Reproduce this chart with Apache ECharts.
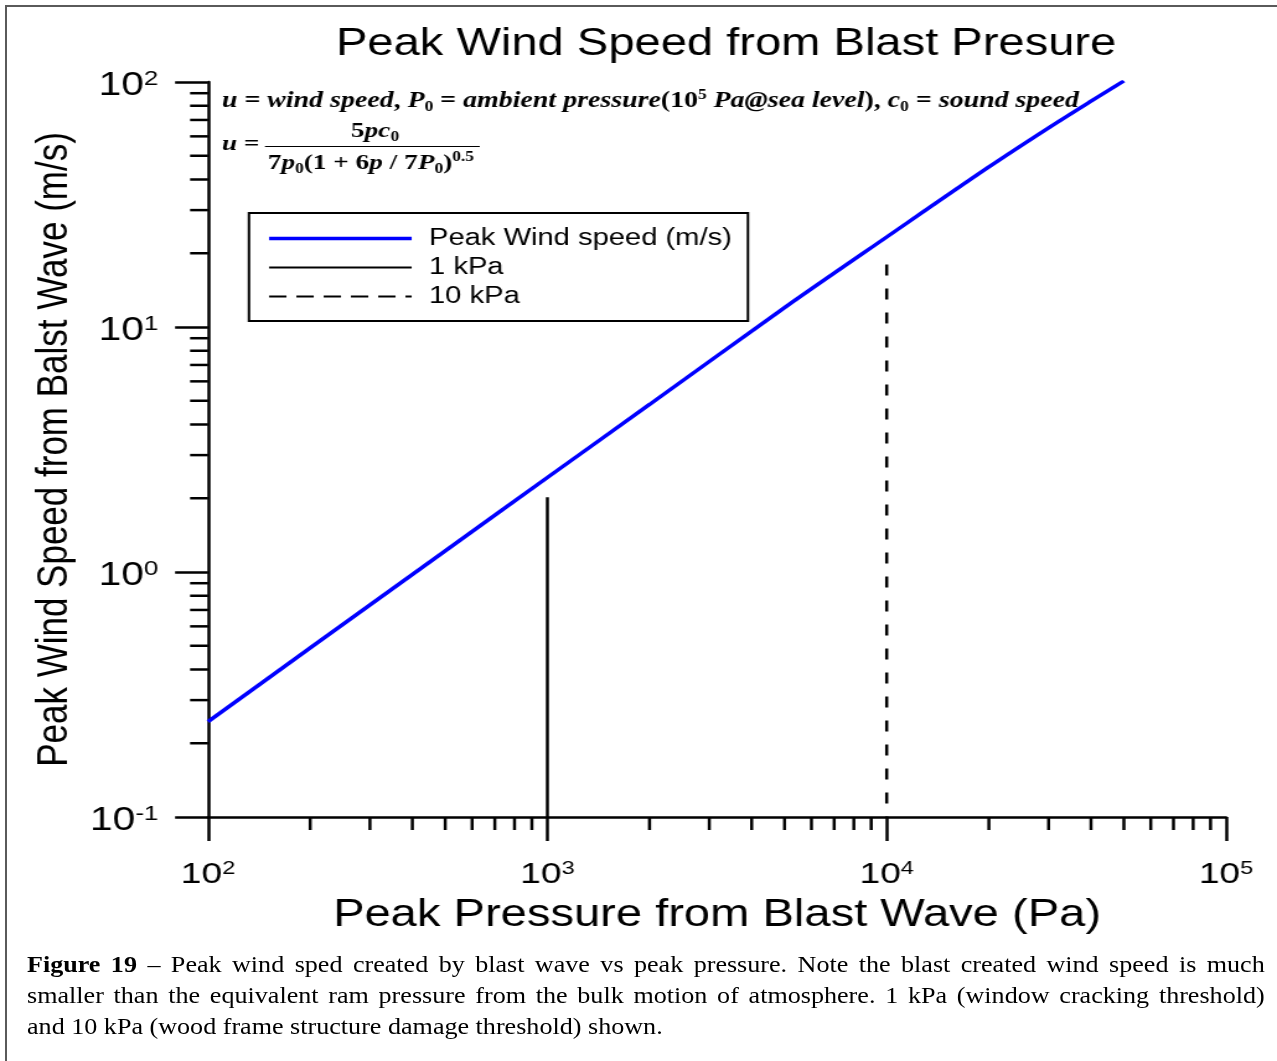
<!DOCTYPE html>
<html>
<head>
<meta charset="utf-8">
<script src="https://cdn.jsdelivr.net/npm/echarts@6/dist/echarts.min.js"></script>
<style>
html,body{margin:0;padding:0;background:#fff;overflow:hidden;}
#frame{position:absolute;left:5px;top:5px;width:1400px;height:1200px;border-top:2px solid #5a5a5a;border-left:2px solid #5a5a5a;}
#wrap{position:absolute;left:0;top:0;width:1030px;height:1061px;transform:scaleX(1.2398);transform-origin:0 0;}
#chart{position:absolute;left:0;top:0;width:1030px;height:1061px;}
#capwrap{position:absolute;left:27px;top:949px;width:1067px;transform:scaleX(1.16);transform-origin:0 0;}
#caption{width:1067px;font-family:"Liberation Serif","Times New Roman",serif;font-size:22.5px;line-height:31px;color:#000;}
#caption div{white-space:nowrap;}
#caption div.j{text-align:justify;text-align-last:justify;}
</style>
</head>
<body>
<div id="frame"></div>
<div id="wrap">
<div id="chart"></div>
</div>
<div id="capwrap">
<div id="caption">
<div class="j"><b>Figure 19</b> – Peak wind sped created by blast wave vs peak pressure. Note the blast created wind speed is much</div>
<div class="j">smaller than the equivalent ram pressure from the bulk motion of atmosphere. 1 kPa (window cracking threshold)</div>
<div>and 10 kPa (wood frame structure damage threshold) shown.</div>
</div>
</div>
<script>
// ---- data ----
const pressurePa = [100, 200, 500, 1000, 2000, 5000, 10000, 20000, 30000, 40000, 50000];
const windSpeed = [0.245, 0.49, 1.22, 2.43, 4.83, 12.0, 23.3, 45, 65, 83.5, 101];
const kPa1Line = [[1000, 2.02], [1000, 0.1]];
const kPa10Line = [[10000, 18], [10000, 0.1]];
const seriesNames = ['Peak Wind speed (m/s)', '1 kPa', '10 kPa'];
const xTickValues = [100, 1000, 10000, 100000];
const xTickExponents = ['2', '3', '4', '5'];
const yTickValues = [0.1, 1, 10, 100];
const yTickExponents = ['-1', '0', '1', '2'];
const xMinorTicks = [200,300,400,500,600,700,800,900,2000,3000,4000,5000,6000,7000,8000,9000,20000,30000,40000,50000,60000,70000,80000,90000];
const yMinorTicks = [0.2,0.3,0.4,0.5,0.6,0.7,0.8,0.9,2,3,4,5,6,7,8,9,20,30,40,50,60,70,80,90];
const titleText = 'Peak Wind Speed from Blast Presure';
const xName = 'Peak Pressure from Blast Wave (Pa)';
const yName = 'Peak Wind Speed from Balst Wave (m/s)';

const SANS = 'Liberation Sans';
const SERIF = 'Liberation Serif';

function tickLabel(values, exps) {
  return function (v) {
    let idx = -1, best = Infinity;
    values.forEach((t, i) => { const d = Math.abs(Math.log10(t) - Math.log10(v)); if (d < best) { best = d; idx = i; } });
    return '{b|10}{s|' + exps[idx] + '}';
  };
}
const xLabelRich = {
  b: {fontFamily: SANS, fontSize: 30, color: '#000', lineHeight: 32},
  s: {fontFamily: SANS, fontSize: 19, color: '#000', verticalAlign: 'top'}
};
const yLabelRich = {
  b: {fontFamily: SANS, fontSize: 33, color: '#000', lineHeight: 34},
  s: {fontFamily: SANS, fontSize: 21, color: '#000', verticalAlign: 'top'}
};
const mathRich = {
  r: {fontFamily: SERIF, fontSize: 22.5, fontWeight: 'bold', color: '#000', lineHeight: 26},
  i: {fontFamily: SERIF, fontSize: 22.5, fontWeight: 'bold', fontStyle: 'italic', color: '#000', lineHeight: 26},
  sub: {fontFamily: SERIF, fontSize: 14, fontWeight: 'bold', color: '#000', verticalAlign: 'bottom'},
  sup: {fontFamily: SERIF, fontSize: 14, fontWeight: 'bold', color: '#000', verticalAlign: 'top'}
};
const fracRich = {
  r: {fontFamily: SERIF, fontSize: 22, fontWeight: 'bold', color: '#000', lineHeight: 26},
  i: {fontFamily: SERIF, fontSize: 22, fontWeight: 'bold', fontStyle: 'italic', color: '#000', lineHeight: 26},
  sub: {fontFamily: SERIF, fontSize: 14, fontWeight: 'bold', color: '#000', verticalAlign: 'bottom'},
  sup: {fontFamily: SERIF, fontSize: 14, fontWeight: 'bold', color: '#000', verticalAlign: 'top'}
};

const chart = echarts.init(document.getElementById('chart'), null, {renderer: 'canvas'});
const option = {
  animation: false,
  backgroundColor: 'transparent',
  title: {
    text: titleText, left: 271, top: 23, padding: 0,
    textStyle: {fontFamily: SANS, fontSize: 38, fontWeight: 'normal', color: '#000', lineHeight: 44}
  },
  grid: {left: 167.8, right: 41.1, top: 82, bottom: 244, containLabel: false, outerBoundsMode: 'none'},
  legend: {
    orient: 'vertical', left: 200.8, top: 213,
    padding: [13.5, 13, 12.5, 14.5], itemGap: 5, itemWidth: 115, itemHeight: 14,
    borderColor: '#000', borderWidth: 2, backgroundColor: '#fff',
    selectedMode: false,
    itemStyle: {opacity: 0},
    textStyle: {fontFamily: SANS, fontSize: 23.5, color: '#000', lineHeight: 23, padding: [0, 0, 0, 9]},
    data: [
      {name: seriesNames[0], itemStyle: {opacity: 0}, lineStyle: {width: 3.5, color: '#0000ff'}},
      {name: seriesNames[1], itemStyle: {opacity: 0}, lineStyle: {width: 2.2, color: '#000'}},
      {name: seriesNames[2], itemStyle: {opacity: 0}, lineStyle: {width: 2.2, color: '#000', type: [14, 8]}}
    ]
  },
  xAxis: {
    type: 'log', logBase: 10, min: 100, max: 100000,
    name: xName, nameLocation: 'middle', nameGap: 77,
    nameTextStyle: {fontFamily: SANS, fontSize: 38, color: '#000', lineHeight: 42},
    axisLine: {show: true, onZero: false, lineStyle: {color: '#000', width: 2.5}},
    axisTick: {show: true, length: 24, lineStyle: {color: '#000', width: 2.5}},
    minorTick: {show: false},
    splitLine: {show: false},
    axisLabel: {margin: 42, formatter: tickLabel(xTickValues, xTickExponents), rich: xLabelRich}
  },
  yAxis: {
    type: 'log', logBase: 10, min: 0.1, max: 100,
    name: yName, nameLocation: 'middle', nameGap: 104.6, nameRotate: 90,
    nameTextStyle: {fontFamily: SANS, fontSize: 35, color: '#000', lineHeight: 35},
    axisLine: {show: true, onZero: false, lineStyle: {color: '#000', width: 2.5}},
    axisTick: {show: true, length: 26.6, lineStyle: {color: '#000', width: 2.5}},
    minorTick: {show: false},
    splitLine: {show: false},
    axisLabel: {margin: 40, padding: [8, 0, 0, 0], formatter: tickLabel(yTickValues, yTickExponents), rich: yLabelRich}
  },
  series: [
    {
      name: seriesNames[0], type: 'line', symbol: 'none', z: 5, smooth: 0.3,
      data: pressurePa.map((p, i) => [p, windSpeed[i]]),
      lineStyle: {color: '#0000ff', width: 3.5}, itemStyle: {color: '#0000ff'}
    },
    {
      name: seriesNames[1], type: 'line', symbol: 'none', z: 4,
      data: kPa1Line,
      lineStyle: {color: '#000', width: 2.5}, itemStyle: {color: '#000'}
    },
    {
      name: seriesNames[2], type: 'line', symbol: 'none', z: 4,
      data: kPa10Line,
      lineStyle: {color: '#000', width: 2.5, type: [11, 13]}, itemStyle: {color: '#000'}
    },
    {
      name: 'xMinor', type: 'custom', silent: true, clip: false, z: 3,
      data: xMinorTicks.map(v => [v, 0.1]), encode: {x: 0, y: 1},
      renderItem: function (params, api) {
        const p = api.coord([api.value(0), api.value(1)]);
        return {type: 'line', shape: {x1: p[0], y1: p[1], x2: p[0], y2: p[1] + 13}, style: {stroke: '#000', lineWidth: 2.5}};
      }
    },
    {
      name: 'yMinor', type: 'custom', silent: true, clip: false, z: 3,
      data: yMinorTicks.map(v => [100, v]), encode: {x: 0, y: 1},
      renderItem: function (params, api) {
        const p = api.coord([api.value(0), api.value(1)]);
        return {type: 'line', shape: {x1: p[0] - 14.5, y1: p[1], x2: p[0], y2: p[1]}, style: {stroke: '#000', lineWidth: 2.5}};
      }
    }
  ],
  graphic: [
    {
      type: 'text', left: 179, top: 88, silent: true,
      style: {
        text: '{i|u}{r| = }{i|wind speed}{r|, }{i|P}{sub|0}{r| = }{i|ambient pressure}{r|(10}{sup|5}{i| Pa@sea level}{r|), }{i|c}{sub|0}{r| = }{i|sound speed}',
        rich: mathRich
      }
    },
    {
      type: 'text', left: 179, top: 133, silent: true,
      style: {text: '{i|u}{r| =}', rich: fracRich}
    },
    {
      type: 'text', x: 302.5, y: 118, silent: true,
      style: {text: '{r|5}{i|pc}{sub|0}', rich: fracRich, align: 'center', verticalAlign: 'top'}
    },
    {
      type: 'line', silent: true,
      shape: {x1: 213.7, y1: 146.5, x2: 387, y2: 146.5},
      style: {stroke: '#000', lineWidth: 1.2}
    },
    {
      type: 'text', left: 216, top: 150, silent: true,
      style: {text: '{r|7}{i|p}{sub|0}{r|(1 + 6}{i|p}{r| / 7}{i|P}{sub|0}{r|)}{sup|0.5}', rich: fracRich}
    }
  ]
};
chart.setOption(option);
</script>
</body>
</html>
